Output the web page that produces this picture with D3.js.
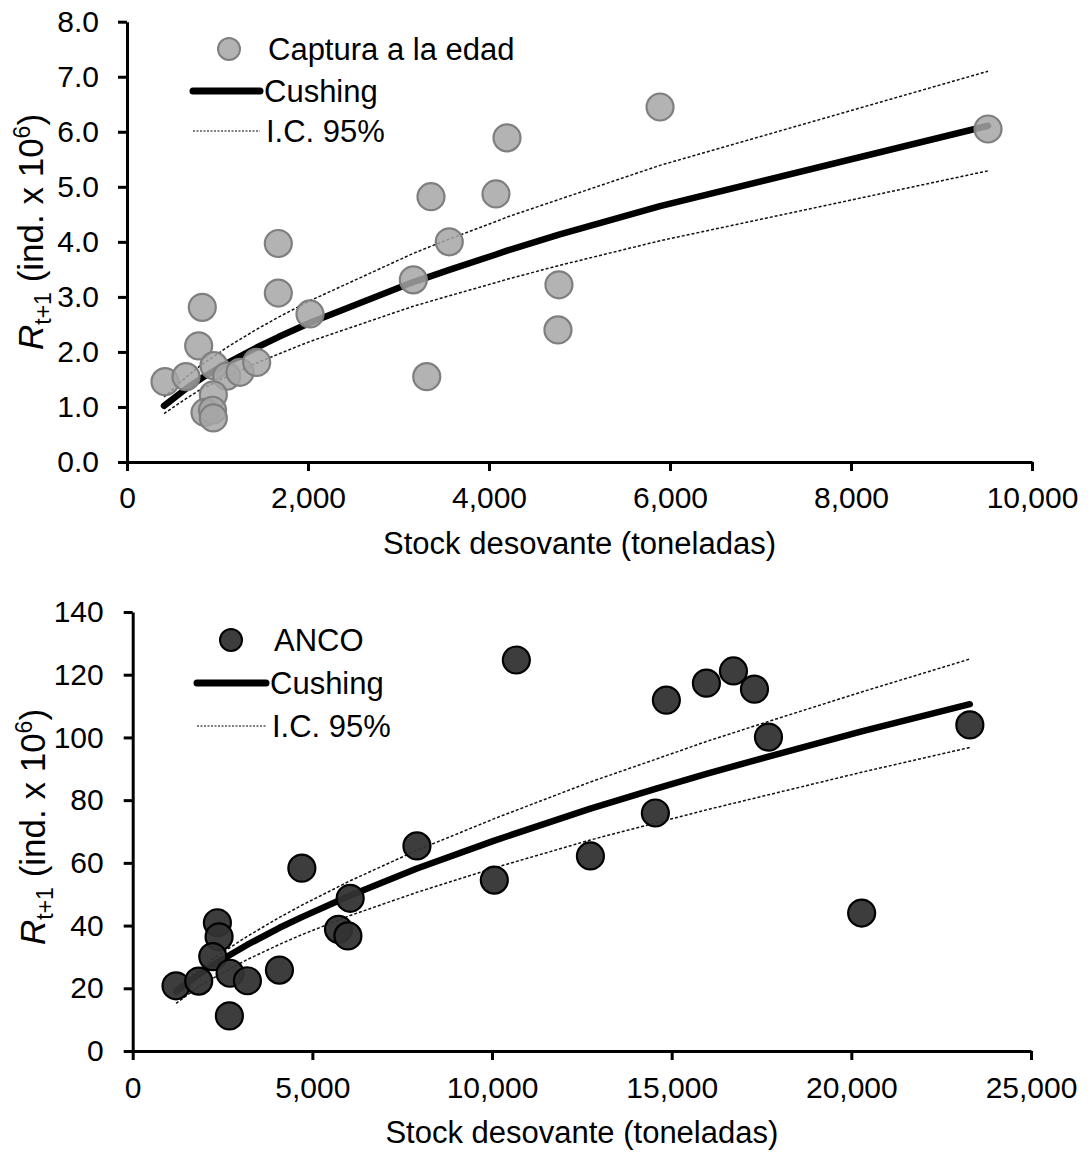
<!DOCTYPE html>
<html><head><meta charset="utf-8">
<script src="https://cdn.jsdelivr.net/npm/d3@7"></script>
<style>
body{margin:0;background:#fff}
text{font-family:"Liberation Sans",Arial,sans-serif;fill:#000}
</style>
</head><body>
<svg id="chart" width="1088" height="1153"></svg>
<script>
// ---------- Top panel data (Captura a la edad) ----------
const topSSB = [420, 652, 832, 792, 961, 1102, 1249, 1433, 954, 862, 945, 954, 1672, 1672, 2022, 3164, 3312, 3561, 3359, 4077, 4199, 4773, 4762, 5890, 9514];
const topRec = [1.46, 1.55, 2.81, 2.11, 1.75, 1.56, 1.63, 1.81, 1.22, 0.90, 0.94, 0.80, 3.97, 3.07, 2.69, 3.31, 1.55, 4.00, 4.82, 4.87, 5.89, 3.22, 2.40, 6.45, 6.05];
const topCurveSSB = [409, 652, 832, 954, 1102, 1249, 1433, 1672, 2022, 3164, 3312, 3561, 4077, 4199, 4773, 5890, 9514];
const topCushing  = [1.02, 1.33, 1.53, 1.65, 1.79, 1.92, 2.08, 2.27, 2.53, 3.27, 3.35, 3.49, 3.77, 3.84, 4.13, 4.65, 6.11];
const topUpper    = [1.18, 1.54, 1.78, 1.91, 2.08, 2.23, 2.41, 2.63, 2.93, 3.79, 3.89, 4.05, 4.37, 4.45, 4.77, 5.39, 7.10];
const topLower    = [0.88, 1.15, 1.34, 1.43, 1.55, 1.66, 1.80, 1.96, 2.19, 2.83, 2.90, 3.02, 3.26, 3.32, 3.57, 4.02, 5.29];
const topXTicks = [0, 2000, 4000, 6000, 8000, 10000];
const topYTicks = [0, 1, 2, 3, 4, 5, 6, 7, 8];

// ---------- Bottom panel data (ANCO) ----------
const botSSB = [1206, 1838, 2357, 2404, 2228, 2710, 3192, 2691, 4084, 4708, 5727, 5989, 6053, 7911, 10064, 10677, 12738, 14546, 14852, 15966, 16719, 17304, 17694, 20287, 23298];
const botRec = [20.8, 22.3, 40.9, 36.4, 30.1, 24.8, 22.4, 11.2, 25.8, 58.3, 38.8, 36.7, 48.7, 65.4, 54.5, 124.7, 62.2, 75.9, 111.9, 117.3, 121.2, 115.4, 100.1, 44.0, 104.0];
const botCurveSSB = [1206, 1838, 2404, 3192, 4084, 4708, 6053, 7911, 10064, 12738, 14546, 15966, 17694, 20287, 23298];
const botCushing  = [19.0, 24.4, 28.6, 33.9, 39.3, 42.7, 49.6, 58.2, 67.1, 77.3, 83.6, 88.4, 93.9, 101.9, 110.6];
const botUpper    = [20.1, 26.1, 30.7, 36.6, 42.6, 46.5, 54.3, 64.0, 74.1, 85.8, 93.0, 98.7, 105.1, 114.5, 125.0];
const botLower    = [15.2, 20.5, 24.3, 29.2, 34.0, 37.1, 43.2, 50.6, 58.4, 67.3, 72.7, 76.9, 81.7, 88.9, 96.8];
const botXTicks = [0, 5000, 10000, 15000, 20000, 25000];
const botYTicks = [0, 20, 40, 60, 80, 100, 120, 140];

const svg = d3.select("#chart");

function panel(cfg) {
  const g = svg.append("g");
  const x = d3.scaleLinear().domain(cfg.xDomain).range([cfg.left, cfg.right]);
  const y = d3.scaleLinear().domain(cfg.yDomain).range([cfg.bottom, cfg.top]);

  const xAxis = d3.axisBottom(x).tickValues(cfg.xTicks).tickFormat(d3.format(","))
      .tickSizeInner(9).tickSizeOuter(0).tickPadding(cfg.xPad);
  const yAxis = d3.axisLeft(y).tickValues(cfg.yTicks).tickFormat(cfg.yFmt)
      .tickSizeInner(9).tickSizeOuter(0).tickPadding(cfg.yPad);
  const gx = g.append("g").attr("transform", `translate(0,${cfg.bottom})`).call(xAxis);
  const gy = g.append("g").attr("transform", `translate(${cfg.left},0)`).call(yAxis);
  [gx, gy].forEach(a => {
    a.selectAll("path").attr("stroke", "#000").attr("stroke-width", 3);
    a.selectAll("line").attr("stroke", "#000").attr("stroke-width", 3);
    a.selectAll("text").attr("font-size", 30).attr("font-family", "Liberation Sans, Arial, sans-serif").attr("fill", "#000");
  });

  const line = d3.line().x(d => x(d[0])).y(d => y(d[1]));
  const zip = (a, b) => a.map((v, i) => [v, b[i]]);
  [cfg.upper, cfg.lower].forEach(arr => {
    g.append("path").attr("d", line(zip(cfg.curveSSB, arr)))
      .attr("fill", "none").attr("stroke", "#111").attr("stroke-width", 1.5)
      .attr("stroke-dasharray", "3,2");
  });
  g.append("path").attr("d", line(zip(cfg.curveSSB, cfg.cushing)))
    .attr("fill", "none").attr("stroke", "#000").attr("stroke-width", 6.5)
    .attr("stroke-linecap", "round").attr("stroke-linejoin", "round");

  g.selectAll("circle.pt").data(zip(cfg.ssb, cfg.rec)).join("circle")
    .attr("class", "pt")
    .attr("cx", d => x(d[0])).attr("cy", d => y(d[1])).attr("r", 13.5)
    .attr("fill", cfg.fill).attr("fill-opacity", cfg.fillOp)
    .attr("stroke", cfg.stroke).attr("stroke-width", 2.2);

  g.append("text").attr("x", (cfg.left + cfg.right) / 2).attr("y", cfg.xTitleY)
    .attr("text-anchor", "middle").attr("font-size", 31).text("Stock desovante (toneladas)");

  const yt = g.append("text").attr("transform", `translate(${cfg.yTitleX},${cfg.yTitleStart}) rotate(-90)`)
    .attr("text-anchor", "start").attr("font-size", 35);
  yt.append("tspan").attr("font-style", "italic").text("R");
  yt.append("tspan").attr("font-size", 23).attr("dy", 8).text("t+1");
  yt.append("tspan").attr("dy", -8).text(" (ind. x 10");
  yt.append("tspan").attr("font-size", 23).attr("dy", -13).text("6");
  yt.append("tspan").attr("dy", 13).text(")");

  const L = cfg.legend;
  g.append("circle").attr("cx", L.cx).attr("cy", L.y0).attr("r", 11)
    .attr("fill", cfg.fill).attr("fill-opacity", cfg.fillOp).attr("stroke", cfg.stroke).attr("stroke-width", 2);
  g.append("text").attr("x", L.tx).attr("y", L.y0).attr("dy", "0.36em").attr("font-size", 31).text(cfg.name);
  g.append("line").attr("x1", L.lx1).attr("x2", L.lx2).attr("y1", L.y1).attr("y2", L.y1)
    .attr("stroke", "#000").attr("stroke-width", 7).attr("stroke-linecap", "round");
  g.append("text").attr("x", L.tx - 4).attr("y", L.y1).attr("dy", "0.36em").attr("font-size", 31).text("Cushing");
  g.append("line").attr("x1", L.lx1).attr("x2", L.lx2).attr("y1", L.y2).attr("y2", L.y2)
    .attr("stroke", "#000").attr("stroke-width", 1.2).attr("stroke-dasharray", "2,1.5");
  g.append("text").attr("x", L.tx - 2).attr("y", L.y2).attr("dy", "0.36em").attr("font-size", 31).text("I.C. 95%");
}

panel({
  name: "Captura a la edad",
  left: 127, right: 1032, top: 21.7, bottom: 462,
  xDomain: [0, 10000], yDomain: [0, 8],
  xTicks: topXTicks, yTicks: topYTicks, yFmt: d3.format(".1f"),
  xPad: 16, yPad: 19,
  ssb: topSSB, rec: topRec,
  curveSSB: topCurveSSB, cushing: topCushing, upper: topUpper, lower: topLower,
  fill: "#a6a6a6", fillOp: 0.85, stroke: "#7f7f7f",
  xTitleY: 554, yTitleX: 43, yTitleStart: 350,
  legend: {cx: 229, tx: 268, lx1: 193, lx2: 260, y0: 49, y1: 91, y2: 131}
});

panel({
  name: "ANCO",
  left: 132.7, right: 1031, top: 612, bottom: 1051,
  xDomain: [0, 25000], yDomain: [0, 140],
  xTicks: botXTicks, yTicks: botYTicks, yFmt: d3.format("d"),
  xPad: 17, yPad: 20,
  ssb: botSSB, rec: botRec,
  curveSSB: botCurveSSB, cushing: botCushing, upper: botUpper, lower: botLower,
  fill: "#333333", fillOp: 0.95, stroke: "#000",
  xTitleY: 1143, yTitleX: 45, yTitleStart: 945,
  legend: {cx: 231, tx: 274, lx1: 197, lx2: 266, y0: 640, y1: 683, y2: 726}
});
</script>
</body></html>
